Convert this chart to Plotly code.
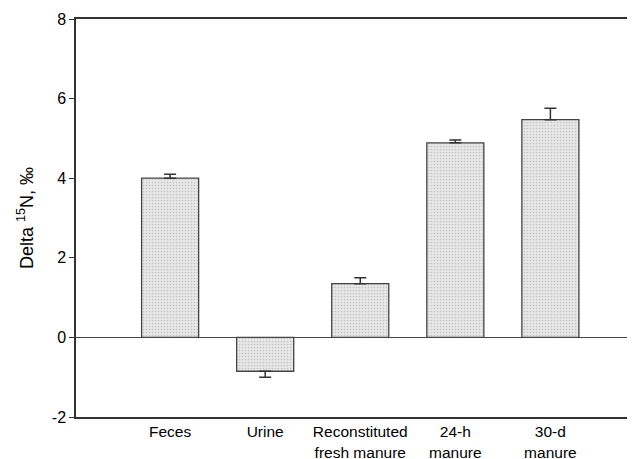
import plotly.graph_objects as go

categories = ["Feces", "Urine", "Reconstituted<br>fresh manure", "24-h<br>manure", "30-d<br>manure"]
values = [4.0, -0.85, 1.35, 4.89, 5.47]
err_plus = [0.10, 0.0, 0.15, 0.07, 0.29]
err_minus = [0.0, 0.15, 0.0, 0.0, 0.0]
y_ticks = [-2, 0, 2, 4, 6, 8]
y_ticktext = ["-2", "0", "2", "4", "6", "8"]

fig = go.Figure()
fig.add_trace(go.Bar(
    x=list(range(len(categories))),
    y=values,
    width=0.6,
    marker=dict(
        color="#e2e2e2",
        line=dict(color="#444444", width=1.3),
        pattern=dict(shape=".", fgcolor="#a0a0a0", bgcolor="#e8e8e8", size=3, solidity=0.25),
    ),
    error_y=dict(type="data", symmetric=False, array=err_plus, arrayminus=err_minus,
                 color="#333333", thickness=1.5, width=6),
))

# page body has an 8px margin, so the figure is sized and offset for it
fig.update_layout(
    width=627, height=451,
    margin=dict(l=68, r=0, t=11, b=42, autoexpand=False),
    plot_bgcolor="white", paper_bgcolor="white",
    showlegend=False,
    font=dict(family="Liberation Sans, Arial, sans-serif", color="#000000", size=15),
)
fig.update_xaxes(
    range=[-0.99, 4.89], automargin=False,
    tickmode="array", tickvals=list(range(len(categories))), ticktext=categories,
    showline=True, mirror=True, linecolor="#333333", linewidth=1.5,
    ticks="", showgrid=False, zeroline=False,
    tickfont=dict(size=15.5),
)
fig.update_yaxes(
    range=[-2, 8], automargin=False,
    tickmode="array", tickvals=y_ticks, ticktext=y_ticktext,
    showline=True, linecolor="#333333", linewidth=1.5,
    ticks="outside", ticklen=5, tickcolor="#333333", tickwidth=1.2,
    showgrid=False, zeroline=True, zerolinecolor="#444444", zerolinewidth=1.3,
    tickfont=dict(size=16),
    title=dict(text="Delta <sup>15</sup>N, ‰", font=dict(size=18), standoff=14),
)

fig.write_html("out.html")
